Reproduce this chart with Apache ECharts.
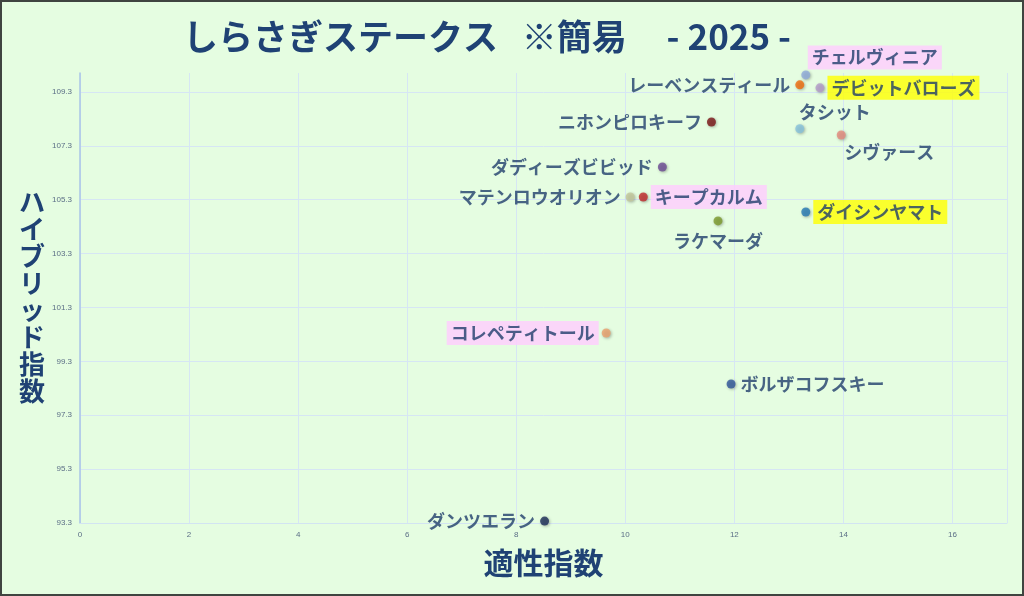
<!DOCTYPE html>
<html>
<head>
<meta charset="utf-8">
<script src="https://cdn.jsdelivr.net/npm/echarts@6/dist/echarts.min.js"></script>
<style>
html,body{margin:0;padding:0;background:#e5fde1;}
#c{width:1024px;height:596px;}
</style>
</head>
<body>
<div id="c"></div>
<script>
var names = ['チェルヴィニア','レーベンスティール','デビットバローズ','タシット','シヴァース','ニホンピロキーフ','ダディーズビビッド','マテンロウオリオン','キープカルム','ラケマーダ','ダイシンヤマト','コレペティトール','ボルザコフスキー','ダンツエラン'];
var aptitude = [13.31, 13.20, 13.57, 13.20, 13.96, 11.58, 10.68, 10.09, 10.33, 11.70, 13.31, 9.65, 11.94, 8.52];
var hybrid = [109.93, 109.56, 109.45, 107.93, 107.70, 108.18, 106.51, 105.40, 105.40, 104.51, 104.84, 100.35, 98.46, 93.37];
var yTicks = [93.3, 95.3, 97.3, 99.3, 101.3, 103.3, 105.3, 107.3, 109.3];
var xTicks = [0, 2, 4, 6, 8, 10, 12, 14, 16];

var colors = ['#8eaadb','#f06a0a','#b39ac9','#86c2dc','#e58a7c','#7b1416','#6b4a94','#c3c79b','#c0282a','#7c9a2c','#2478b4','#eba06c','#2f559a','#1c2c58'];
var labelCfg = {
  'チェルヴィニア': {position:'top', offset:[69,2], bg:'#ffccff'},
  'レーベンスティール': {position:'left'},
  'デビットバローズ': {position:'right', bg:'#ffff00'},
  'タシット': {position:'top', offset:[35,2]},
  'シヴァース': {position:'bottom', offset:[48,-1]},
  'ニホンピロキーフ': {position:'left'},
  'ダディーズビビッド': {position:'left'},
  'マテンロウオリオン': {position:'left'},
  'キープカルム': {position:'right', bg:'#ffccff'},
  'ラケマーダ': {position:'bottom', offset:[0,2]},
  'ダイシンヤマト': {position:'right', bg:'#ffff00'},
  'コレペティトール': {position:'left', bg:'#ffccff'},
  'ボルザコフスキー': {position:'right'},
  'ダンツエラン': {position:'left'}
};

var data = names.map(function(n, i){
  var c = labelCfg[n];
  var lab = {show:true, position:c.position, distance:5, formatter:n,
    color:'#1f3d6b', fontSize:18, fontWeight:'bold',
    fontFamily:'"Noto Sans CJK JP", sans-serif'};
  if (c.offset) lab.offset = c.offset;
  if (c.bg) { lab.backgroundColor = c.bg; lab.padding = [3,4,3,4]; lab.distance = 3; }
  return {name:n, value:[aptitude[i], hybrid[i]], itemStyle:{color:colors[i]}, label:lab};
});

var chart = echarts.init(document.getElementById('c'));
chart.setOption({
  backgroundColor:'#e5fde1',
  animation:false,
  title:{text:'しらさぎステークス   ※簡易     - 2025 -', left:482, top:14, textAlign:'center',
    textStyle:{fontSize:35, fontWeight:'bold', color:'#1f4274', fontFamily:'"Noto Sans CJK JP", sans-serif'}},
  grid:{left:80, right:17, top:73, bottom:73},
  xAxis:{type:'value', min:0, max:17, interval:2,
    name:'適性指数', nameLocation:'middle', nameGap:25,
    nameTextStyle:{fontSize:30, fontWeight:'bold', color:'#1f4274', fontFamily:'"Noto Sans CJK JP", sans-serif'},
    axisLine:{show:true, lineStyle:{color:'#d2e4f2', width:1}},
    axisTick:{show:false},
    axisLabel:{fontSize:8, color:'#5b6e86', margin:8, showMaxLabel:false},
    splitLine:{show:true, lineStyle:{color:'#d6e6f4', width:1}}
  },
  yAxis:{type:'value', min:93.3, max:110,
    axisLine:{show:true, lineStyle:{color:'#a9c5e6', width:1.5}},
    axisTick:{show:false, customValues:yTicks},
    axisLabel:{fontSize:8, color:'#5b6e86', margin:8, customValues:yTicks, formatter:function(v){return v.toFixed(1);}},
    splitLine:{show:true, lineStyle:{color:'#d6e6f4', width:1}}
  },
  graphic:[
    {type:'text', left:19, top:189, style:{text:'ハ\nイ\nブ\nリ\nッ\nド\n指\n数', fontSize:26, lineHeight:27, fontWeight:'bold', fill:'#1f4274', fontFamily:'"Noto Sans CJK JP", sans-serif'}},
    {type:'rect', shape:{x:1, y:1, width:1022, height:594}, style:{fill:'none', stroke:'#3f4440', lineWidth:2}}
  ],
  series:[{type:'scatter', symbolSize:9, data:data,
    itemStyle:{shadowBlur:3, shadowColor:'rgba(0,0,0,0.35)', shadowOffsetX:1, shadowOffsetY:1}
  }]
});
</script>
</body>
</html>
